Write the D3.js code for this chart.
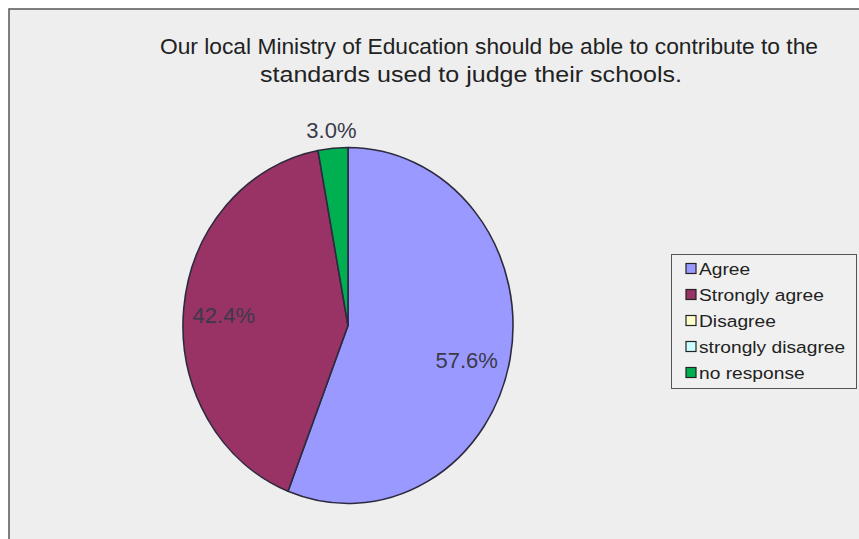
<!DOCTYPE html>
<html>
<head>
<meta charset="utf-8">
<script src="https://cdn.jsdelivr.net/npm/d3@7"></script>
<style>
  html, body { margin: 0; padding: 0; background: #ffffff; }
  svg { display: block; font-family: "Liberation Sans", Arial, sans-serif; }
</style>
</head>
<body>
<svg id="chart" width="859" height="539"></svg>
<script>
// Survey responses (percent of respondents)
const categories = ["Agree", "Strongly agree", "Disagree", "strongly disagree", "no response"];
const percentValues = [57.6, 42.4, 0, 0, 3.0];
const sliceColors = ["#9999ff", "#993366", "#ffffcc", "#ccffff", "#00b050"];
const titleLines = [
  "Our local Ministry of Education should be able to contribute to the",
  "standards used to judge their schools."
];

const svg = d3.select("#chart");
const W = 859, H = 539;

// Chart area: grey panel with a dark frame on the left and top
svg.append("rect")
  .attr("x", 9).attr("y", 9)
  .attr("width", W).attr("height", H)
  .attr("fill", "#eeeeee")
  .attr("stroke", "#555555")
  .attr("stroke-width", 1.5);

// Title (condensed type, two centred lines)
const titleLayout = [
  { x: 489, y: 54, w: 658 },
  { x: 471, y: 82, w: 422 }
];
svg.append("g").selectAll("text")
  .data(titleLines)
  .join("text")
  .attr("x", (d, i) => titleLayout[i].x)
  .attr("y", (d, i) => titleLayout[i].y)
  .attr("text-anchor", "middle")
  .attr("font-size", 22)
  .attr("fill", "#222222")
  .attr("textLength", (d, i) => titleLayout[i].w)
  .attr("lengthAdjust", "spacingAndGlyphs")
  .text(d => d);

// Pie (slightly narrower horizontally than vertically)
const R = 178;
const sx = 165 / 178;
const cx = 348, cy = 325.5;

const pie = d3.pie().sort(null).value(d => d.value);
const rows = categories.map((c, i) => ({ name: c, value: percentValues[i], color: sliceColors[i] }));
const arcs = pie(rows);
const arc = d3.arc().innerRadius(0).outerRadius(R);

const pieG = svg.append("g")
  .attr("transform", `translate(${cx},${cy}) scale(${sx},1)`);

pieG.selectAll("path")
  .data(arcs.filter(a => a.data.value > 0))
  .join("path")
  .attr("d", arc)
  .attr("fill", d => d.data.color)
  .attr("stroke", "#2e2a3e")
  .attr("stroke-width", 1.6)
  .attr("vector-effect", "non-scaling-stroke")
  .attr("stroke-linejoin", "round");

// Data labels: inside the large slices, just outside the thin one
const fmt = d3.format(".1f");
const labelArc = d3.arc().innerRadius(R * 0.75).outerRadius(R * 0.75);
const outerLabelArc = d3.arc().innerRadius(R * 1.1).outerRadius(R * 1.1);
const labelNudge = { "Agree": [-3, 10], "Strongly agree": [-1, 2], "no response": [0, 0] };
const labelG = svg.append("g").attr("transform", `translate(${cx},${cy})`);
labelG.selectAll("text")
  .data(arcs.filter(a => a.data.value > 0))
  .join("text")
  .attr("transform", d => {
    const small = (d.endAngle - d.startAngle) < 0.3;
    const [x, y] = small ? outerLabelArc.centroid(d) : labelArc.centroid(d);
    const [nx, ny] = labelNudge[d.data.name] || [0, 0];
    return `translate(${x * sx + nx},${y + ny})`;
  })
  .attr("text-anchor", "middle")
  .attr("dy", "0.35em")
  .attr("font-size", 22)
  .attr("fill", "#3a3a4a")
  .text(d => fmt(d.data.value) + "%");

// Legend
const lg = svg.append("g").attr("transform", "translate(671.5,254.5)");
lg.append("rect")
  .attr("width", 185).attr("height", 134)
  .attr("fill", "#f0f0f0")
  .attr("stroke", "#555555")
  .attr("stroke-width", 1);

const item = lg.selectAll("g.item")
  .data(rows)
  .join("g")
  .attr("class", "item")
  .attr("transform", (d, i) => `translate(14.5,${14 + i * 26})`);

item.append("rect")
  .attr("x", 0).attr("y", -5)
  .attr("width", 10).attr("height", 10)
  .attr("fill", d => d.color)
  .attr("stroke", "#222222")
  .attr("stroke-width", 1.2);

item.append("text")
  .attr("transform", "translate(13,0) scale(1.13,1)")
  .attr("dy", "0.36em")
  .attr("font-size", 17)
  .attr("fill", "#222222")
  .text(d => d.name);
</script>
</body>
</html>
